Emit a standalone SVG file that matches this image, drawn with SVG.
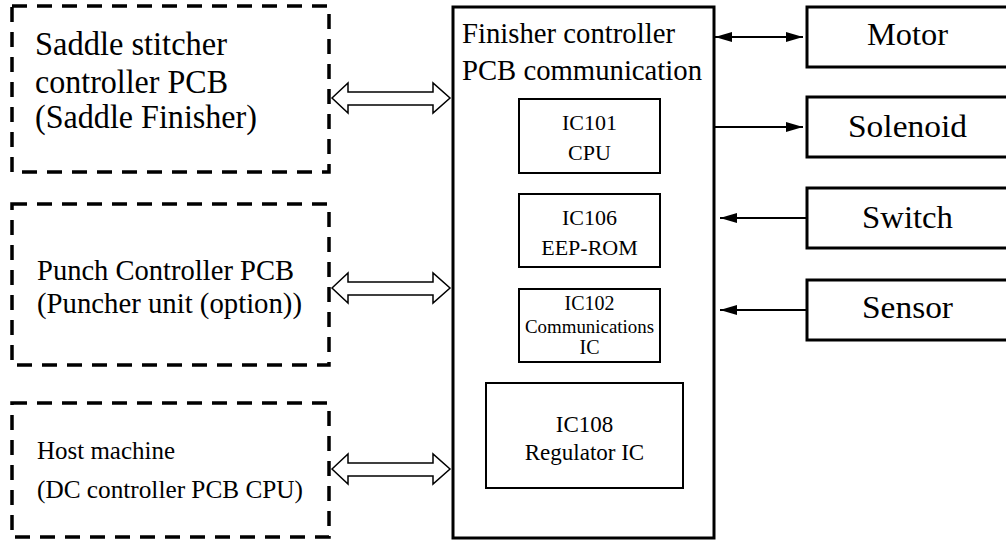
<svg xmlns="http://www.w3.org/2000/svg" width="1006" height="541" viewBox="0 0 1006 541">
  <style>
    .dash { fill: none; stroke: #000; stroke-width: 3.5; stroke-dasharray: 15 10; }
    .box { fill: #fff; stroke: #000; stroke-width: 3; }
    .ic { fill: #fff; stroke: #000; stroke-width: 2; }
    .t { font-family: 'Liberation Serif', 'Times New Roman', serif; fill: #000; }
    .c { text-anchor: middle; }
    .hollow { fill: #fff; stroke: #000; stroke-width: 1.5; stroke-linejoin: miter; }
    .wire { stroke: #000; stroke-width: 2; fill: none; }
  </style>
  <defs>
    <marker id="ah" viewBox="0 0 17 10" refX="17" refY="5" markerWidth="17" markerHeight="10" markerUnits="userSpaceOnUse" orient="auto-start-reverse">
      <path d="M0,0 L17,5 L0,10 z" fill="#000"/>
    </marker>
  </defs>
  <rect width="1006" height="541" fill="#fff"/>

  <g id="saddle-stitcher">
    <rect class="dash" x="12" y="6" width="317" height="166"/>
    <text class="t" font-size="33" x="35" y="55" textLength="192" lengthAdjust="spacingAndGlyphs">Saddle stitcher</text>
    <text class="t" font-size="33" x="35" y="93" textLength="193" lengthAdjust="spacingAndGlyphs">controller PCB</text>
    <text class="t" font-size="33" x="35" y="128" textLength="222" lengthAdjust="spacingAndGlyphs">(Saddle Finisher)</text>
  </g>

  <g id="punch-controller">
    <rect class="dash" x="12" y="204" width="317" height="161"/>
    <text class="t" font-size="30" x="37" y="280" textLength="257" lengthAdjust="spacingAndGlyphs">Punch Controller PCB</text>
    <text class="t" font-size="30" x="37" y="313" textLength="265" lengthAdjust="spacingAndGlyphs">(Puncher unit (option))</text>
  </g>

  <g id="host-machine">
    <rect class="dash" x="12" y="403" width="317" height="134"/>
    <text class="t" font-size="26" x="37" y="459" textLength="138" lengthAdjust="spacingAndGlyphs">Host machine</text>
    <text class="t" font-size="26" x="37" y="498" textLength="266" lengthAdjust="spacingAndGlyphs">(DC controller PCB CPU)</text>
  </g>

  <g id="finisher-controller">
    <rect class="box" x="453" y="7" width="261" height="531"/>
    <text class="t" font-size="29" x="462" y="43" textLength="213" lengthAdjust="spacingAndGlyphs">Finisher controller</text>
    <text class="t" font-size="29" x="462" y="80" textLength="240" lengthAdjust="spacingAndGlyphs">PCB communication</text>
  </g>

  <g id="ic101">
    <rect class="ic" x="519" y="99" width="141" height="74"/>
    <text class="t c" font-size="22" x="589.5" y="130">IC101</text>
    <text class="t c" font-size="22" x="589.5" y="160">CPU</text>
  </g>

  <g id="ic106">
    <rect class="ic" x="519" y="194" width="141" height="73"/>
    <text class="t c" font-size="22" x="589.5" y="225">IC106</text>
    <text class="t c" font-size="22" x="589.5" y="255">EEP-ROM</text>
  </g>

  <g id="ic102">
    <rect class="ic" x="519" y="289" width="141" height="73"/>
    <text class="t c" font-size="20" x="589.5" y="310">IC102</text>
    <text class="t c" font-size="18" x="589.5" y="333" textLength="129" lengthAdjust="spacingAndGlyphs">Communications</text>
    <text class="t c" font-size="20" x="589.5" y="354">IC</text>
  </g>

  <g id="ic108">
    <rect class="ic" x="486" y="383" width="197" height="105"/>
    <text class="t c" font-size="23" x="584.5" y="432">IC108</text>
    <text class="t c" font-size="23" x="584.5" y="460">Regulator IC</text>
  </g>

  <g id="motor">
    <rect class="box" x="807" y="7" width="210" height="60"/>
    <text class="t" font-size="32" x="867" y="45" textLength="81" lengthAdjust="spacingAndGlyphs">Motor</text>
  </g>
  <g id="solenoid">
    <rect class="box" x="807" y="97" width="210" height="60"/>
    <text class="t" font-size="32" x="848" y="137" textLength="119" lengthAdjust="spacingAndGlyphs">Solenoid</text>
  </g>
  <g id="switch">
    <rect class="box" x="807" y="188" width="210" height="60"/>
    <text class="t" font-size="32" x="862" y="228" textLength="91" lengthAdjust="spacingAndGlyphs">Switch</text>
  </g>
  <g id="sensor">
    <rect class="box" x="807" y="280" width="210" height="60"/>
    <text class="t" font-size="32" x="862" y="318" textLength="91" lengthAdjust="spacingAndGlyphs">Sensor</text>
  </g>

  <g id="connectors">
    <polygon class="hollow" points="332,98 348,83 348,92 433,92 433,83 450,98 433,113 433,105 348,105 348,113"/>
    <polygon class="hollow" points="332,288 348,273 348,282 433,282 433,273 450,288 433,303 433,295 348,295 348,303"/>
    <polygon class="hollow" points="332,469 348,454 348,463 433,463 433,454 450,469 433,484 433,476 348,476 348,484"/>
    <line class="wire" x1="715" y1="37" x2="803" y2="37" marker-start="url(#ah)" marker-end="url(#ah)"/>
    <line class="wire" x1="714" y1="127" x2="803" y2="127" marker-end="url(#ah)"/>
    <line class="wire" x1="807" y1="218" x2="720" y2="218" marker-end="url(#ah)"/>
    <line class="wire" x1="807" y1="310" x2="720" y2="310" marker-end="url(#ah)"/>
  </g>
</svg>
